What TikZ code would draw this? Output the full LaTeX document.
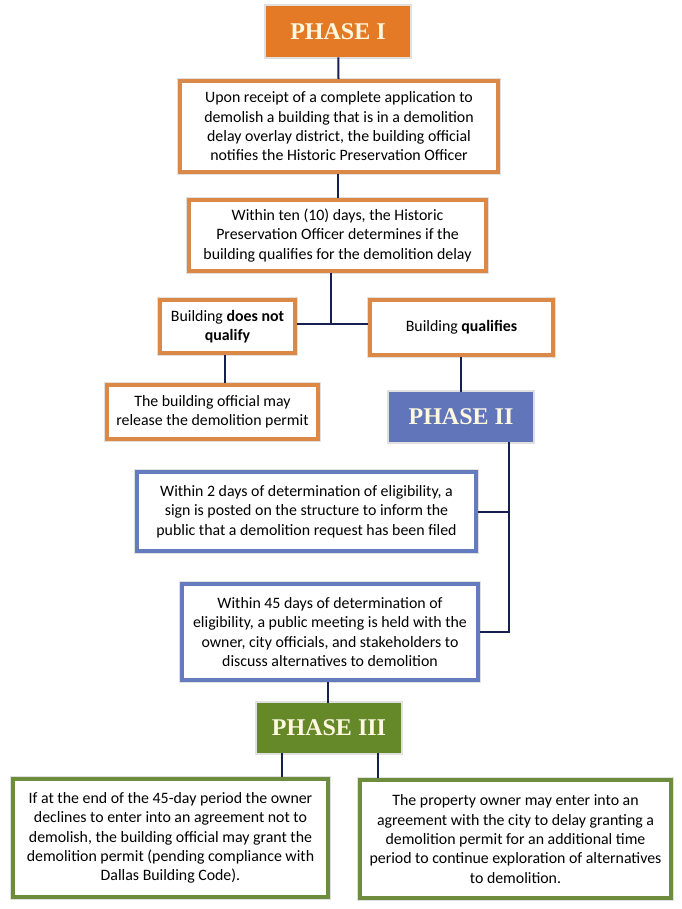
\documentclass[tikz,border=0pt]{standalone}
\usepackage{fontspec}
\setmainfont{Carlito}
\newfontfamily\phasefont{Liberation Serif}
\usepackage{tikz}

\definecolor{orangefill}{RGB}{228,122,38}
\definecolor{orangeline}{RGB}{220,137,72}
\definecolor{bluefill}{RGB}{96,117,186}
\definecolor{blueline}{RGB}{100,124,190}
\definecolor{greenfill}{RGB}{101,136,41}
\definecolor{greenline}{RGB}{110,140,62}
\definecolor{navy}{RGB}{22,32,80}
\definecolor{cream}{RGB}{255,248,225}

\begin{document}
\begin{tikzpicture}[x=0.75pt, y=-0.75pt,
  phase/.style={inner sep=0pt, minimum width=108pt, minimum height=37.5pt,
    font=\phasefont\fontsize{18}{21}\selectfont\bfseries, text=cream,
    preaction={draw=black!12, line width=2.5pt}},
  infobox/.style={draw, fill=white, line width=3pt, align=center, inner sep=0pt,
    font=\fontsize{11.9}{14.5}\selectfont,
    preaction={draw=black!12, line width=4.5pt}},
  link/.style={draw=navy, line width=1.5pt}]
\useasboundingbox (0,0) rectangle (681,909);

% Phase I
\node[phase, fill=orangefill, minimum height=38.25pt] (phaseone) at (338,31.5) {PHASE I};
\node[infobox, draw=orangeline, minimum width=238.5pt, minimum height=68.25pt] (apply) at (339,126.5)
  {Upon receipt of a complete application to\\ demolish a building that is in a demolition\\
   delay overlay district, the building official\\ notifies the Historic Preservation Officer};
\node[infobox, draw=orangeline, minimum width=222.75pt, minimum height=53.25pt] (review) at (337.5,235.5)
  {Within ten (10) days, the Historic\\ Preservation Officer determines if the\\
   building qualifies for the demolition delay};
\node[infobox, draw=orangeline, minimum width=101.25pt, minimum height=39.75pt] (notq) at (227.5,326.5)
  {Building \textbf{does not}\\ \textbf{qualify}};
\node[infobox, draw=orangeline, minimum width=137.25pt, minimum height=41.25pt] (qual) at (461.5,327.5)
  {Building \textbf{qualifies}};
\node[infobox, draw=orangeline, minimum width=158.25pt, minimum height=40.5pt] (release) at (212.5,412)
  {The building official may\\ release the demolition permit};

% Phase II
\node[phase, fill=bluefill] (phasetwo) at (461,417) {PHASE II};
\node[infobox, draw=blueline, minimum width=254.25pt, minimum height=59.25pt] (sign) at (306.5,511.5)
  {Within 2 days of determination of eligibility, a\\ sign is posted on the structure to inform the\\
   public that a demolition request has been filed};
\node[infobox, draw=blueline, minimum width=222pt, minimum height=72pt] (meet) at (330,632)
  {Within 45 days of determination of\\ eligibility, a public meeting is held with the\\
   owner, city officials, and stakeholders to\\ discuss alternatives to demolition};

% Phase III
\node[phase, fill=greenfill] (phasethree) at (329,728) {PHASE III};
\node[infobox, draw=greenline, minimum width=236.25pt, minimum height=88.5pt] (deny) at (170.5,838)
  {If at the end of the 45-day period the owner\\ declines to enter into an agreement not to\\
   demolish, the building official may grant the\\ demolition permit (pending compliance with\\
   Dallas Building Code).};
\node[infobox, draw=greenline, minimum width=233.25pt, minimum height=88.5pt] (delay) at (515.5,839)
  {The property owner may enter into an\\ agreement with the city to delay granting a\\
   demolition permit for an additional time\\ period to continue exploration of alternatives\\
   to demolition.};

% Connection lines
\coordinate (split) at (331,324);
\coordinate (rail) at (509,442);
\coordinate (leftdrop) at (282,0);
\coordinate (rightdrop) at (378,0);

\draw[link] (phaseone) -- (apply);
\draw[link] (apply.south -| review.north) -- (review.north);
\draw[link] (review.south -| split) -- (split);
\draw[link] (notq.east |- split) -- (qual.west |- split);
\draw[link] (notq.south -| 225,0) -- (release.north -| 225,0);
\draw[link] (qual.south -| phasetwo.north) -- (phasetwo.north);
\draw[link] (rail) |- (meet.east);
\draw[link] (sign.east) -- (sign.east -| rail);
\draw[link] (meet.south -| 328,0) -- (phasethree.north -| 328,0);
\draw[link] (phasethree.south -| leftdrop) -- (deny.north -| leftdrop);
\draw[link] (phasethree.south -| rightdrop) -- (delay.north -| rightdrop);

\end{tikzpicture}
\end{document}
